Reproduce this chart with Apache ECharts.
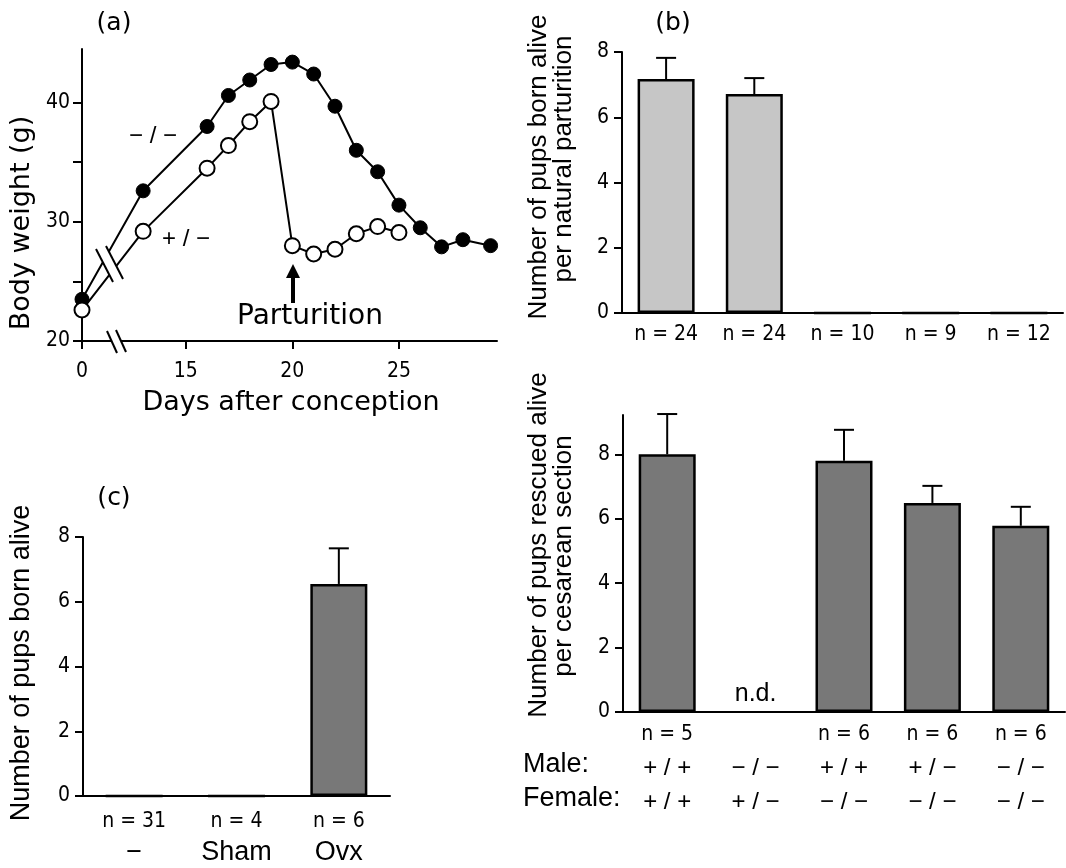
<!DOCTYPE html>
<html>
<head>
<meta charset="utf-8">
<script src="https://cdn.jsdelivr.net/npm/echarts@6/dist/echarts.min.js"></script>
<style>
  html, body { margin: 0; padding: 0; background: #fff; }
  #fig { width: 1066px; height: 868px; }
</style>
</head>
<body>
<div id="fig"></div>
<script>
// (a) body weight
var daysKO = [0, 13, 16, 17, 18, 19, 20, 21, 22, 23, 24, 25, 26, 27, 28, 29.3];
var weightKO = [23.5, 32.6, 38.0, 40.6, 41.9, 43.2, 43.4, 42.4, 39.7, 36.0, 34.2, 31.4, 29.5, 27.9, 28.5, 28.0];
var daysHet = [0, 13, 16, 17, 18, 19, 20, 21, 22, 23, 24, 25];
var weightHet = [22.6, 29.2, 34.5, 36.4, 38.4, 40.1, 28.0, 27.3, 27.7, 29.0, 29.6, 29.1];
var dayTicks = [0, 15, 20, 25];

// (b) natural parturition
var natN = ["n=24", "n=24", "n=10", "n=9", "n=12"];
var natMean = [7.17, 6.71, 0, 0, 0];
var natSem = [0.65, 0.49, 0, 0, 0];

// (c) ovariectomy
var ovxN = ["n=31", "n=4", "n=6"];
var ovxGroup = ["\u2212", "Sham", "Ovx"];
var ovxMean = [0, 0, 6.55];
var ovxSem = [0, 0, 1.1];

// (d) cesarean section
var cesN = ["n=5", "", "n=6", "n=6", "n=6"];
var maleGeno = ["+ / +", "\u2212 / \u2212", "+ / +", "+ / \u2212", "\u2212 / \u2212"];
var femaleGeno = ["+ / +", "+ / \u2212", "\u2212 / \u2212", "\u2212 / \u2212", "\u2212 / \u2212"];
var cesMean = [8.0, null, 7.8, 6.49, 5.78];
var cesSem = [1.25, null, 0.96, 0.53, 0.59];

var NARROW = "'Liberation Sans Narrow', 'DejaVu Sans Condensed', 'Liberation Sans', sans-serif";
var SANS = "'Liberation Sans', Arial, sans-serif";
var ROUND = "'DejaVu Sans', sans-serif";

var chart = echarts.init(document.getElementById("fig"));

function pairs(xs, ys) {
  return xs.map(function (x, i) { return [x, ys[i]]; });
}
function errData(mean, sem) {
  return mean.map(function (m, i) { return [i, m, sem[i]]; });
}
function errRender(params, api) {
  var m = api.value(1), s = api.value(2);
  if (!s || isNaN(m)) return;
  var p0 = api.coord([api.value(0), m]);
  var p1 = api.coord([api.value(0), m + s]);
  return {
    type: "group",
    children: [
      { type: "line", shape: { x1: p0[0], y1: p0[1], x2: p1[0], y2: p1[1] }, style: { stroke: "#000", lineWidth: 2 } },
      { type: "line", shape: { x1: p1[0] - 10, y1: p1[1], x2: p1[0] + 10, y2: p1[1] }, style: { stroke: "#000", lineWidth: 2 } }
    ]
  };
}
function txt(x, y, text, size, family, rot, align) {
  var el = { type: "text", x: x, y: y, z: 110,
    style: { text: text, fontSize: size, fontFamily: family, fill: "#000", align: align || "center", verticalAlign: "middle" } };
  if (rot) el.rotation = rot;
  return el;
}

var axisBlack = { lineStyle: { color: "#000", width: 2 } };
var tickBlack = { show: true, length: 8, lineStyle: { color: "#000", width: 2 } };
var numLabel = { color: "#000", fontSize: 21, fontFamily: NARROW, margin: 13 };

function barY(idx, max) {
  return {
    type: "value", gridIndex: idx, min: 0, max: max, interval: 2,
    axisLine: { show: true, lineStyle: { color: "#000", width: 2 } },
    axisTick: tickBlack,
    axisLabel: Object.assign({ showMaxLabel: max === 8 }, numLabel),
    splitLine: { show: false }
  };
}

var option = {
  backgroundColor: "#fff",
  animation: false,
  grid: [
    { left: 82, top: 49, width: 415, height: 292 },
    { left: 622, top: 52, width: 441, height: 261 },
    { left: 83, top: 537, width: 307, height: 261 },
    { left: 623, top: 415, width: 442, height: 297 }
  ],
  xAxis: [
    {
      type: "value", gridIndex: 0, min: 0, max: 29.6,
      breaks: [{ start: 0.5, end: 12.5, gap: "9.6%" }],
      breakArea: { show: false },
      axisLine: axisBlack,
      axisTick: { show: true, length: 8, lineStyle: { color: "#000", width: 2 }, customValues: dayTicks },
      axisLabel: { color: "#000", fontSize: 21, fontFamily: NARROW, margin: 20, customValues: dayTicks },
      splitLine: { show: false }
    },
    {
      type: "category", gridIndex: 1, data: natN.map(function (n, i) { return i; }),
      axisLine: axisBlack, axisTick: { show: false },
      axisLabel: { color: "#000", fontSize: 21, fontFamily: NARROW, margin: 11,
        formatter: function (v, i) { return natN[i].replace("=", " = "); } }
    },
    {
      type: "category", gridIndex: 2, data: ovxN.map(function (n, i) { return i; }),
      axisLine: axisBlack, axisTick: { show: false },
      axisLabel: {
        color: "#000", margin: 11, lineHeight: 30,
        formatter: function (v, i) { return "{n|" + ovxN[i].replace("=", " = ") + "}\n{g|" + ovxGroup[i] + "}"; },
        rich: {
          n: { fontSize: 21, fontFamily: NARROW, lineHeight: 30 },
          g: { fontSize: 27, fontFamily: SANS, lineHeight: 31 }
        }
      }
    },
    {
      type: "category", gridIndex: 3, data: cesN.map(function (n, i) { return i; }),
      axisLine: axisBlack, axisTick: { show: false },
      axisLabel: {
        color: "#000", margin: 7, lineHeight: 32,
        formatter: function (v, i) {
          return "{n|" + (cesN[i] ? cesN[i].replace("=", " = ") : " ") + "}\n{g|" + maleGeno[i] + "}\n{g|" + femaleGeno[i] + "}";
        },
        rich: {
          n: { fontSize: 21, fontFamily: NARROW, lineHeight: 32 },
          g: { fontSize: 24, fontFamily: SANS, lineHeight: 34 }
        }
      }
    }
  ],
  yAxis: [
    {
      type: "value", gridIndex: 0, min: 20, max: 44.5, interval: 5,
      axisLine: { show: true, lineStyle: { color: "#000", width: 2 } },
      axisTick: { show: true, length: 9, lineStyle: { color: "#000", width: 2 } },
      axisLabel: { color: "#000", fontSize: 21, fontFamily: NARROW, margin: 12, showMaxLabel: false,
        formatter: function (v) { return v % 10 === 0 ? String(v) : ""; } },
      splitLine: { show: false }
    },
    barY(1, 8),
    barY(2, 8),
    barY(3, 9.22)
  ],
  series: [
    {
      name: "-/-", type: "line", xAxisIndex: 0, yAxisIndex: 0,
      data: pairs(daysKO, weightKO),
      symbol: "circle", symbolSize: 14, z: 3,
      lineStyle: { color: "#000", width: 2 },
      itemStyle: { color: "#000", borderColor: "#000", borderWidth: 1 }
    },
    {
      name: "+/-", type: "line", xAxisIndex: 0, yAxisIndex: 0,
      data: pairs(daysHet, weightHet),
      symbol: "circle", symbolSize: 15, z: 3,
      lineStyle: { color: "#000", width: 2 },
      itemStyle: { color: "#fff", borderColor: "#000", borderWidth: 2 }
    },
    {
      type: "bar", xAxisIndex: 1, yAxisIndex: 1, data: natMean, barWidth: 57,
      itemStyle: { color: "#c6c6c6", borderColor: "#000", borderWidth: 2.5 }
    },
    { type: "custom", xAxisIndex: 1, yAxisIndex: 1, data: errData(natMean, natSem), renderItem: errRender, z: 3 },
    {
      type: "bar", xAxisIndex: 2, yAxisIndex: 2, data: ovxMean, barWidth: 57,
      itemStyle: { color: "#787878", borderColor: "#000", borderWidth: 2.5 }
    },
    { type: "custom", xAxisIndex: 2, yAxisIndex: 2, data: errData(ovxMean, ovxSem), renderItem: errRender, z: 3 },
    {
      type: "bar", xAxisIndex: 3, yAxisIndex: 3, data: cesMean, barWidth: 57,
      itemStyle: { color: "#787878", borderColor: "#000", borderWidth: 2.5 },
      markPoint: {
        symbol: "circle", symbolSize: 0,
        data: [{ coord: [1, 0] }],
        label: { show: true, formatter: "n.d.", position: "inside", offset: [0, -18], color: "#000", fontSize: 25, fontFamily: SANS }
      }
    },
    { type: "custom", xAxisIndex: 3, yAxisIndex: 3, data: errData(cesMean, cesSem), renderItem: errRender, z: 3 }
  ],
  graphic: [
    // panel letters
    txt(114, 23, "(a)", 25, ROUND),
    txt(673, 23, "(b)", 25, ROUND),
    txt(114, 498, "(c)", 25, ROUND),
    // axis titles
    txt(22, 223, "Body weight (g)", 27, ROUND, Math.PI / 2),
    txt(291, 403, "Days after conception", 27, ROUND),
    txt(539, 167, "Number of pups born alive", 26, SANS, Math.PI / 2),
    txt(564, 159, "per natural parturition", 26, SANS, Math.PI / 2),
    txt(539, 545, "Number of pups rescued alive", 26, SANS, Math.PI / 2),
    txt(564, 556, "per cesarean section", 26, SANS, Math.PI / 2),
    txt(22, 663, "Number of pups born alive", 27, SANS, Math.PI / 2),
    // genotype row headers
    txt(523, 765, "Male:", 27, SANS, 0, "left"),
    txt(523, 799, "Female:", 27, SANS, 0, "left"),
    // (a) annotations
    txt(153, 136, "\u2212 / \u2212", 24, SANS),
    txt(186, 239, "+ / \u2212", 24, SANS),
    txt(310, 317, "Parturition", 28, ROUND),
    { type: "rect", shape: { x: 291, y: 276, width: 4, height: 27 }, style: { fill: "#000" }, z: 100 },
    { type: "polygon", shape: { points: [[293, 264], [286, 278], [300, 278]] }, style: { fill: "#000" }, z: 100 },
    // x axis line through the break
    { type: "line", shape: { x1: 81, y1: 341, x2: 140, y2: 341 }, style: { stroke: "#000", lineWidth: 2 }, z: 99 },
    // break marks on lines
    { type: "polygon", shape: { points: [[96, 249], [106, 246], [123, 279], [113, 282]] }, style: { fill: "#fff" }, z: 100 },
    { type: "line", shape: { x1: 96, y1: 249, x2: 113, y2: 282 }, style: { stroke: "#000", lineWidth: 2 }, z: 101 },
    { type: "line", shape: { x1: 106, y1: 246, x2: 123, y2: 279 }, style: { stroke: "#000", lineWidth: 2 }, z: 101 },
    // break mark on x axis
    { type: "polygon", shape: { points: [[107, 331], [116, 330], [126, 352], [117, 353]] }, style: { fill: "#fff" }, z: 100 },
    { type: "line", shape: { x1: 107, y1: 331, x2: 117, y2: 353 }, style: { stroke: "#000", lineWidth: 2 }, z: 101 },
    { type: "line", shape: { x1: 116, y1: 330, x2: 126, y2: 352 }, style: { stroke: "#000", lineWidth: 2 }, z: 101 }
  ]
};

chart.setOption(option);
</script>
</body>
</html>
